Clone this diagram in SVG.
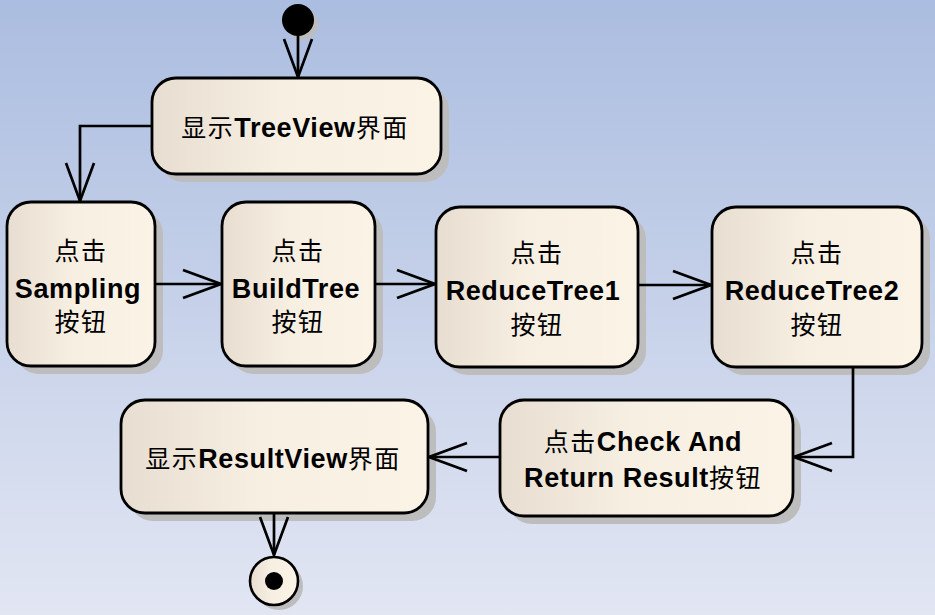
<svg xmlns="http://www.w3.org/2000/svg" width="935" height="615" viewBox="0 0 935 615">
<defs>
<linearGradient id="bg" x1="0" y1="0" x2="0" y2="1">
<stop offset="0" stop-color="#abbde0"/>
<stop offset="1" stop-color="#e2e6f3"/>
</linearGradient>
<linearGradient id="nodefill" x1="0" y1="0" x2="1" y2="0">
<stop offset="0" stop-color="#e7ded1"/>
<stop offset="0.45" stop-color="#f8efe3"/>
<stop offset="1" stop-color="#fbf3e6"/>
</linearGradient>
<marker id="arrow" viewBox="0 0 42 32" markerWidth="42" markerHeight="32" markerUnits="userSpaceOnUse" refX="40" refY="16" orient="auto">
<path d="M2,2 L40,16 L2,30" fill="none" stroke="#000" stroke-width="2.7"/>
</marker>
<style>
.shadow{fill:#bdbdbd}
.act{fill:url(#nodefill);stroke:#000;stroke-width:2.8}
.edge{fill:none;stroke:#000;stroke-width:2.7;marker-end:url(#arrow)}
.t{font-family:"Liberation Sans","Noto Sans CJK SC",sans-serif;fill:#000;text-anchor:middle}
.en{font-size:27px;font-weight:bold;letter-spacing:0.6px}
.cn{font-family:"Noto Sans CJK SC",sans-serif;font-size:25px;font-weight:normal;letter-spacing:1.5px}
</style>
</defs>
<rect x="0" y="0" width="935" height="615" fill="url(#bg)"/>

<g id="initial">
<circle class="shadow" cx="302" cy="24" r="16"/>
<circle cx="298" cy="20" r="16" fill="#000"/>
</g>

<g id="showTreeView">
<rect class="shadow" x="160" y="86" width="289" height="96" rx="24"/>
<rect class="act" x="152" y="78" width="289" height="96" rx="24"/>
<text class="t" x="295" y="137"><tspan class="cn">显示</tspan><tspan class="en">TreeView</tspan><tspan class="cn">界面</tspan></text>
</g>

<g id="sampling">
<rect class="shadow" x="15" y="210" width="148" height="164" rx="24"/>
<rect class="act" x="7" y="202" width="148" height="164" rx="24"/>
<text class="t cn" x="81" y="260">点击</text>
<text class="t en" x="78" y="298">Sampling</text>
<text class="t cn" x="81" y="331">按钮</text>
</g>

<g id="buildTree">
<rect class="shadow" x="230" y="210" width="153" height="164" rx="24"/>
<rect class="act" x="222" y="202" width="153" height="164" rx="24"/>
<text class="t cn" x="298" y="260">点击</text>
<text class="t en" x="296" y="298">BuildTree</text>
<text class="t cn" x="298" y="331">按钮</text>
</g>

<g id="reduceTree1">
<rect class="shadow" x="444" y="215" width="202" height="160" rx="24"/>
<rect class="act" x="436" y="207" width="202" height="160" rx="24"/>
<text class="t cn" x="537" y="262">点击</text>
<text class="t en" x="533" y="300">ReduceTree1</text>
<text class="t cn" x="537" y="334">按钮</text>
</g>

<g id="reduceTree2">
<rect class="shadow" x="720" y="215" width="210" height="160" rx="24"/>
<rect class="act" x="712" y="207" width="210" height="160" rx="24"/>
<text class="t cn" x="817" y="262">点击</text>
<text class="t en" x="812" y="300">ReduceTree2</text>
<text class="t cn" x="817" y="334">按钮</text>
</g>

<g id="checkReturn">
<rect class="shadow" x="508" y="408" width="293" height="116" rx="24"/>
<rect class="act" x="500" y="400" width="293" height="116" rx="24"/>
<text class="t" x="643" y="451"><tspan class="cn">点击</tspan><tspan class="en">Check And</tspan></text>
<text class="t" x="643" y="487"><tspan class="en">Return Result</tspan><tspan class="cn">按钮</tspan></text>
</g>

<g id="showResultView">
<rect class="shadow" x="129" y="408" width="307" height="113" rx="24"/>
<rect class="act" x="121" y="400" width="307" height="113" rx="24"/>
<text class="t" x="273" y="468"><tspan class="cn">显示</tspan><tspan class="en">ResultView</tspan><tspan class="cn">界面</tspan></text>
</g>

<g id="final">
<circle class="shadow" cx="279" cy="586" r="24"/>
<circle cx="274" cy="581" r="24" fill="url(#nodefill)" stroke="#000" stroke-width="2.6"/>
<circle cx="274" cy="581" r="9" fill="#000"/>
</g>

<g id="connectors">
<path class="edge" d="M298,36 L298,77"/>
<path class="edge" d="M152,126 L80,126 L80,201"/>
<path class="edge" d="M155,284 L221,284"/>
<path class="edge" d="M375,284 L435,284"/>
<path class="edge" d="M638,285 L711,285"/>
<path class="edge" d="M853,367 L853,457 L794,457"/>
<path class="edge" d="M500,457 L429,457"/>
<path class="edge" d="M274,513 L274,555"/>
</g>
</svg>
